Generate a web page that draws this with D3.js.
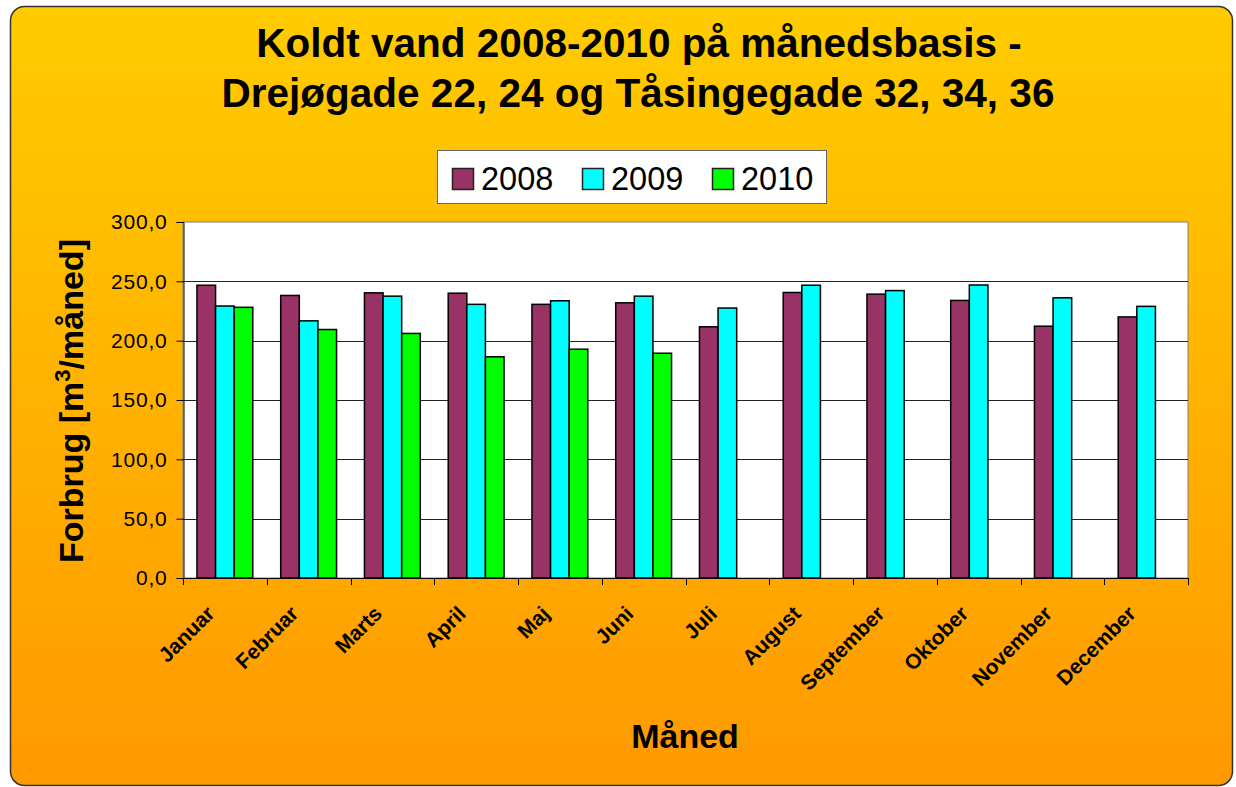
<!DOCTYPE html>
<html>
<head>
<meta charset="utf-8">
<script src="https://cdn.jsdelivr.net/npm/d3@7"></script>
<style>
  body { margin: 0; background: #fff; }
  svg { display: block; font-family: "Liberation Sans", Arial, sans-serif; }
</style>
</head>
<body>
<div id="chart"></div>
<script>
// data
var months = ["Januar", "Februar", "Marts", "April", "Maj", "Juni", "Juli",
              "August", "September", "Oktober", "November", "December"];
var years = ["2008", "2009", "2010"];
var v2008 = [246.7, 238.1, 240.3, 240.0, 230.6, 231.9, 211.7, 240.6, 239.2, 233.9, 212.2, 220.0];
var v2009 = [229.2, 216.7, 237.5, 230.6, 233.6, 237.5, 227.5, 246.7, 242.2, 246.9, 236.1, 228.9];
var v2010 = [228.1, 209.4, 206.1, 186.4, 192.8, 189.4, null, null, null, null, null, null];
var yTicks = [0, 50, 100, 150, 200, 250, 300];
var colors = ["#993366", "#00FFFF", "#00FF00"];

var width = 1236, height = 787;
var plot = {left: 183, top: 222, right: 1188, bottom: 578};

var svg = d3.select("#chart").append("svg")
  .attr("width", width)
  .attr("height", height);

var defs = svg.append("defs");
var grad = defs.append("linearGradient")
  .attr("id", "bg").attr("x1", 0).attr("y1", 0).attr("x2", 0).attr("y2", 1);
grad.append("stop").attr("offset", "0%").attr("stop-color", "#FFCC00");
grad.append("stop").attr("offset", "100%").attr("stop-color", "#FF9900");

// outer chart frame
svg.append("rect")
  .attr("x", 10.5).attr("y", 6.5)
  .attr("width", 1222).attr("height", 779)
  .attr("rx", 14)
  .attr("fill", "url(#bg)")
  .attr("stroke", "#333")
  .attr("stroke-width", 1.5);

// title
var title = svg.append("text")
  .attr("text-anchor", "middle")
  .attr("font-weight", "bold")
  .attr("font-size", 40.5)
  .attr("fill", "#000");
title.append("tspan").attr("x", 639).attr("y", 57).text("Koldt vand 2008-2010 på månedsbasis -");
title.append("tspan").attr("x", 638).attr("y", 107).text("Drejøgade 22, 24 og Tåsingegade 32, 34, 36");

// scales
var x0 = d3.scaleBand().domain(months).range([plot.left, plot.right]).paddingInner(0).paddingOuter(0);
var x1 = d3.scaleBand().domain(years).range([0, x0.bandwidth()]).paddingInner(0).paddingOuter(0.75);
var y = d3.scaleLinear().domain([0, 300]).range([plot.bottom, plot.top]);

// plot area
svg.append("rect")
  .attr("x", plot.left).attr("y", plot.top)
  .attr("width", plot.right - plot.left).attr("height", plot.bottom - plot.top)
  .attr("fill", "#fff")
  .attr("stroke", "#808080")
  .attr("stroke-width", 1);

// gridlines
svg.append("g")
  .selectAll("line")
  .data(yTicks.filter(function(t) { return t > 0 && t < 300; }))
  .enter().append("line")
  .attr("x1", plot.left).attr("x2", plot.right)
  .attr("y1", function(d) { return Math.round(y(d)) + 0.5; })
  .attr("y2", function(d) { return Math.round(y(d)) + 0.5; })
  .attr("stroke", "#222")
  .attr("stroke-width", 1);

// bars
var series = [v2008, v2009, v2010];
var rows = [];
months.forEach(function(m, i) {
  years.forEach(function(yr, j) {
    if (series[j][i] != null) rows.push({month: m, year: yr, idx: j, value: series[j][i]});
  });
});

svg.append("g")
  .selectAll("rect")
  .data(rows)
  .enter().append("rect")
  .attr("x", function(d) { return x0(d.month) + x1(d.year); })
  .attr("y", function(d) { return y(d.value); })
  .attr("width", x1.bandwidth())
  .attr("height", function(d) { return y(0) - y(d.value); })
  .attr("fill", function(d) { return colors[d.idx]; })
  .attr("stroke", "#000")
  .attr("stroke-width", 1.5);

// y axis
var yAxis = d3.axisLeft(y)
  .tickValues(yTicks)
  .tickSize(7)
  .tickPadding(9)
  .tickFormat(function(d) { return d3.format(".1f")(d).replace(".", ","); });
var gy = svg.append("g")
  .attr("transform", "translate(" + (plot.left + 0.5) + ",0)")
  .call(yAxis);
gy.select(".domain").attr("stroke", "#000");
gy.selectAll(".tick line").attr("stroke", "#000");
gy.selectAll("text")
  .attr("font-size", 21)
  .attr("letter-spacing", 0.8)
  .attr("font-family", "Liberation Sans, Arial, sans-serif")
  .attr("fill", "#000");

// x axis: ticks at category boundaries
var xAxisG = svg.append("g");
xAxisG.append("line")
  .attr("x1", plot.left).attr("x2", plot.right)
  .attr("y1", plot.bottom + 0.5).attr("y2", plot.bottom + 0.5)
  .attr("stroke", "#000");
var bounds = months.map(function(m) { return x0(m); }).concat([plot.right]);
xAxisG.selectAll("line.tk")
  .data(bounds)
  .enter().append("line")
  .attr("class", "tk")
  .attr("x1", function(d) { return Math.round(d) + 0.5; })
  .attr("x2", function(d) { return Math.round(d) + 0.5; })
  .attr("y1", plot.bottom).attr("y2", plot.bottom + 7)
  .attr("stroke", "#000");

xAxisG.selectAll("text")
  .data(months)
  .enter().append("text")
  .attr("text-anchor", "end")
  .attr("font-weight", "bold")
  .attr("font-size", 21)
  .attr("transform", function(d) {
    var cx = x0(d) + x0.bandwidth() / 2 - 9;
    return "translate(" + cx + "," + (plot.bottom + 37) + ") rotate(-45)";
  })
  .text(function(d) { return d; });

// axis titles
svg.append("text")
  .attr("text-anchor", "middle")
  .attr("font-weight", "bold")
  .attr("font-size", 34)
  .attr("x", 685).attr("y", 748)
  .text("Måned");

var yt = svg.append("text")
  .attr("text-anchor", "middle")
  .attr("font-weight", "bold")
  .attr("font-size", 34)
  .attr("transform", "translate(83,401) rotate(-90)");
yt.append("tspan").text("Forbrug [m");
yt.append("tspan").attr("font-size", 22).attr("dy", -13).text("3");
yt.append("tspan").attr("dy", 13).text("/måned]");

// legend
var legend = svg.append("g");
legend.append("rect")
  .attr("x", 437.5).attr("y", 150.5)
  .attr("width", 389).attr("height", 53)
  .attr("fill", "#fff")
  .attr("stroke", "#666");
var legX = [452, 582, 712];
var li = legend.selectAll("g.item")
  .data(years)
  .enter().append("g")
  .attr("class", "item")
  .attr("transform", function(d, i) { return "translate(" + legX[i] + ",0)"; });
li.append("rect")
  .attr("x", 0.5).attr("y", 168.5)
  .attr("width", 21).attr("height", 21)
  .attr("fill", function(d, i) { return colors[i]; })
  .attr("stroke", "#222")
  .attr("stroke-width", 1.5);
li.append("text")
  .attr("x", 29).attr("y", 190)
  .attr("font-size", 32.5)
  .text(function(d) { return d; });
</script>
</body>
</html>
